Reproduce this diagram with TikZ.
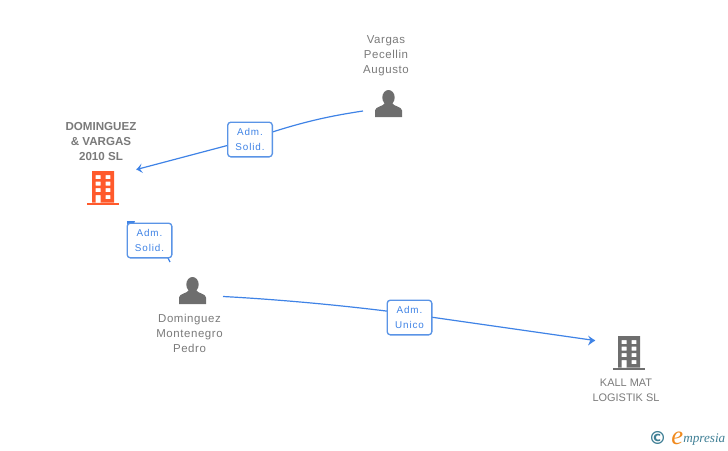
\documentclass[tikz,border=0pt]{standalone}
\usepackage{fontspec}
\setmainfont{Liberation Sans}
\newfontfamily\spaced[LetterSpace=5]{Liberation Sans}
\newfontfamily\spacedrole[LetterSpace=9]{Liberation Sans}
\newfontfamily\logofont{Liberation Serif}
\newfontfamily\copyfont{DejaVu Sans}
\definecolor{linkblue}{HTML}{3F83E6}
\definecolor{boxblue}{HTML}{5A94E6}
\definecolor{txtgrey}{HTML}{7A7A7A}
\definecolor{icongrey}{HTML}{6E6E6E}
\definecolor{orangeb}{HTML}{FF5A2C}
\definecolor{logoteal}{HTML}{3F7F95}
\definecolor{logoorange}{HTML}{F08A1E}
\tikzset{
  x=0.75pt,y=-0.75pt,
  link/.style={draw=linkblue,line width=0.9pt},
  tipfill/.style={fill=linkblue,draw=none},
  rolebox/.style={draw=boxblue,line width=1pt,rounded corners=2.4pt,fill=white,inner sep=0pt,
    minimum width=33.5pt,minimum height=26pt,align=center,text=linkblue,
    font=\spacedrole\fontsize{7.4}{11.2}\selectfont},
  nametext/.style={align=center,text=txtgrey,inner sep=0pt,font=\spaced\fontsize{8.6}{11.25}\selectfont},
  capstext/.style={align=center,text=txtgrey,inner sep=0pt,font=\fontsize{8.2}{11.25}\selectfont},
  boldtext/.style={align=center,text=txtgrey,inner sep=0pt,font=\bfseries\fontsize{8.7}{11.25}\selectfont},
  pics/person/.style={code={
    \fill[icongrey] (0,-6.5) ellipse[x radius=6.2,y radius=7.5];
    \fill[icongrey] (-13.5,13) -- (-13.5,6.5) .. controls (-13.5,2.5) and (-5,2.5) .. (-3.5,-1)
      -- (3.5,-1) .. controls (5,2.5) and (13.5,2.5) .. (13.5,6.5) -- (13.5,13) -- cycle;
  }},
  pics/block/.style={code={
    \fill[#1,even odd rule]
      (-11,-17) rectangle (11,14.5)
      (-7.3,-13) rectangle (-2.3,-9) (2.7,-13) rectangle (7.3,-9)
      (-7.3,-6.3) rectangle (-2.3,-2.3) (2.7,-6.3) rectangle (7.3,-2.3)
      (-7.3,0) rectangle (-2.3,4) (2.7,0) rectangle (7.3,4)
      (2.7,7) rectangle (7.3,11)
      (-7.3,7) rectangle (-2.3,14.5);
    \fill[#1] (-16,14.5) rectangle (16,17);
  }}
}
\begin{document}
\begin{tikzpicture}
\useasboundingbox (0,0) rectangle (728,450);
% free ends of connectors
\coordinate (vargasOut) at (363,111);
\coordinate (dvIn) at (136.5,169.5);
\coordinate (dvIn2) at (127,221);
\coordinate (domOutA) at (170,262);
\coordinate (domOutB) at (223,296.5);
\coordinate (kallIn) at (595,340.5);
% role labels positions
\coordinate (r1) at (250,139.5);
\coordinate (r2) at (149.5,240.5);
\coordinate (r3) at (409.5,317.5);
\coordinate (r3line) at (409.5,314);
% connectors
\draw[link] (vargasOut) .. controls (330,116) and (300,122) .. (r1) -- (dvIn);
\fill[tipfill] (dvIn) -- (141.5,163.5) -- (139.8,168.8) -- (143,173) -- cycle;
\draw[link] (domOutB) .. controls (280,299.5) and (350,306) .. (r3line) -- (kallIn);
\fill[tipfill] (kallIn) -- (588,335.5) -- (590.5,340) -- (588,345.5) -- cycle;
\draw[link] (domOutA) -- (168,258);
\fill[tipfill] (dvIn2) -- (135,221) -- (134,223.5) -- (127,224.5) -- cycle;
% role boxes
\node[rolebox] (adm1) at (r1) {Adm.\\Solid.};
\node[rolebox] (adm2) at (r2) {Adm.\\Solid.};
\node[rolebox] (adm3) at (r3) {Adm.\\Unico};
% icons
\pic at (388.5,104) {person};
\pic at (192.5,291) {person};
\pic at (103,188) {block=orangeb};
\pic at (629,353) {block=icongrey};
% texts
\node[boldtext] (dv) at (101,142) {DOMINGUEZ\\\&\ VARGAS\\2010 SL};
\node[nametext] (vargas) at (386,56) {Vargas\\Pecellin\\Augusto};
\node[nametext] (dom) at (189.5,333) {Dominguez\\Montenegro\\Pedro};
\node[capstext] (kall) at (626,390) {KALL MAT\\LOGISTIK SL};
% logo
\node[inner sep=0pt,text=logoteal,font=\copyfont\bfseries\fontsize{13.5}{14}\selectfont] (copy) at (657.5,438) {\textcopyright};
\node[inner sep=0pt,anchor=base west,text=logoorange,font=\logofont\itshape\fontsize{20}{21}\selectfont] (loge) at (671,444) {e};
\node[inner sep=0pt,anchor=base west,text=logoteal,font=\logofont\itshape\fontsize{9.9}{12}\selectfont] (logo) at (683,442) {mpresia};
\end{tikzpicture}
\end{document}
